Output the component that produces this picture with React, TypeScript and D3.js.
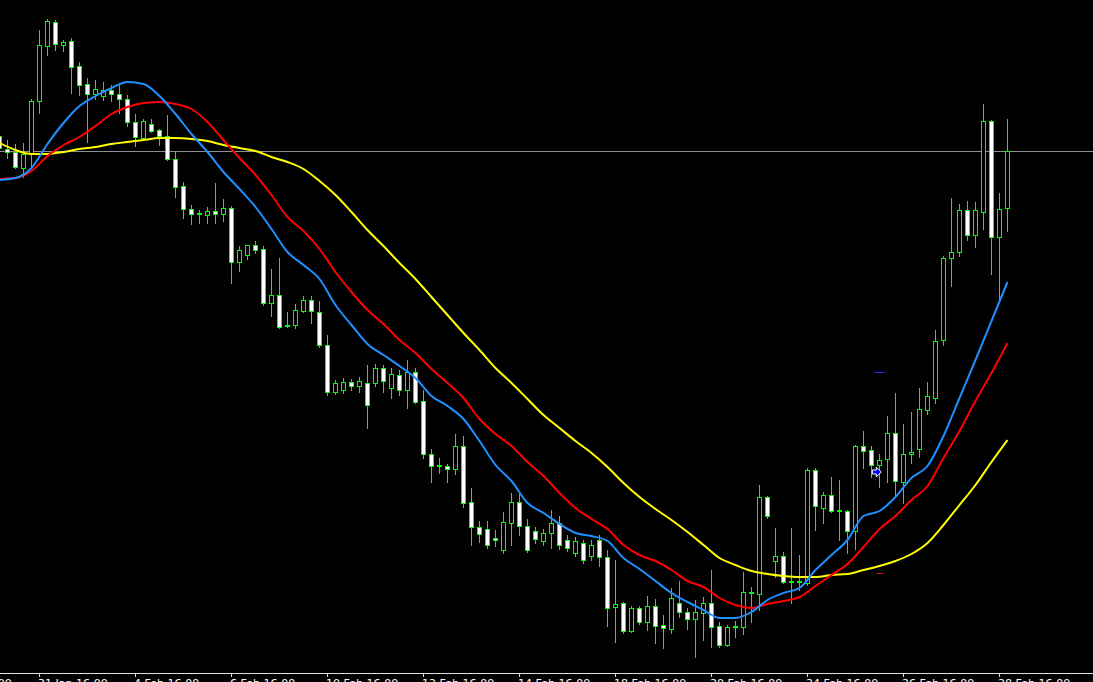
import React from 'react';
import * as d3 from 'd3';

// H4 bars, first visible bar index = -1 (partially cut at the left edge)
const FIRST_BAR = -1;

const openP = [
  564, 551, 548, 532, 546, 599, 654, 678, 655, 659, 634, 616, 606, 604, 610, 606, 601, 578, 562, 576,
  570, 564, 541, 514, 491, 487, 485, 489, 486, 492, 438, 445, 455, 451, 397, 405, 374, 375, 389, 400,
  388, 355, 308, 310, 318, 314, 317, 317, 332, 312, 325, 310, 328, 299, 246, 234, 234, 231, 254, 198,
  173, 171, 162, 150, 177, 198, 174, 169, 159, 167, 177, 160, 147, 157, 144, 160, 143, 93, 97, 69,
  92, 78, 94, 75, 71, 97, 88, 81, 87, 97, 74, 55, 73, 73, 107, 106, 203, 139, 144, 118,
  118, 117, 230, 192, 205, 189, 189, 169, 254, 250, 235, 241, 267, 218, 246, 251, 290, 302, 360, 442,
  448, 490, 465, 488, 579, 463, 492,
];
const highP = [
  566, 560, 556, 557, 601, 670, 681, 680, 660, 662, 638, 622, 620, 618, 615, 617, 605, 586, 581, 581,
  571, 585, 548, 518, 495, 490, 493, 517, 501, 494, 454, 455, 459, 454, 431, 442, 388, 396, 404, 404,
  399, 365, 320, 322, 321, 323, 335, 336, 335, 332, 330, 340, 332, 310, 251, 242, 236, 266, 264, 212,
  179, 179, 170, 188, 207, 206, 181, 173, 171, 190, 184, 165, 163, 160, 160, 165, 150, 140, 98, 94,
  94, 104, 101, 85, 112, 119, 92, 100, 103, 130, 78, 75, 79, 128, 113, 215, 204, 172, 148, 172,
  145, 232, 232, 208, 223, 220, 190, 255, 269, 254, 246, 284, 307, 276, 288, 312, 318, 370, 444, 502,
  496, 499, 498, 596, 580, 507, 581,
];
const lowP = [
  550, 542, 532, 523, 534, 587, 645, 650, 649, 607, 605, 558, 601, 600, 599, 587, 574, 554, 560, 568,
  555, 540, 503, 482, 476, 477, 477, 477, 479, 417, 429, 441, 447, 395, 384, 372, 373, 372, 388, 377,
  353, 305, 306, 307, 310, 308, 272, 314, 308, 302, 305, 292, 297, 242, 218, 227, 218, 226, 193, 155,
  158, 152, 154, 147, 155, 165, 148, 157, 155, 152, 151, 149, 144, 137, 140, 134, 74, 58, 67, 68,
  76, 70, 57, 52, 67, 83, 71, 43, 60, 53, 53, 54, 63, 66, 78, 90, 182, 123, 117, 97,
  110, 115, 170, 177, 188, 160, 147, 151, 232, 223, 213, 218, 205, 197, 237, 243, 286, 297, 355, 414,
  444, 460, 453, 471, 426, 400, 469,
];
const closeP = [
  552, 548, 533, 546, 599, 655, 679, 656, 658, 633, 615, 606, 611, 610, 606, 601, 578, 563, 579, 569,
  564, 541, 513, 491, 486, 486, 489, 486, 492, 438, 450, 455, 450, 397, 405, 373, 375, 390, 400, 389,
  355, 308, 317, 318, 314, 319, 295, 332, 319, 326, 310, 328, 298, 246, 234, 235, 231, 254, 197, 173,
  166, 155, 160, 178, 198, 174, 150, 161, 167, 177, 155, 152, 159, 140, 155, 143, 92, 96, 69, 92,
  78, 94, 74, 72, 102, 88, 81, 88, 97, 73, 55, 73, 74, 108, 108, 203, 184, 144, 118, 119,
  119, 230, 194, 205, 189, 190, 169, 254, 249, 235, 240, 267, 219, 246, 248, 291, 304, 359, 442, 448,
  490, 465, 490, 579, 463, 491, 549,
];

// moving averages, one value every 2 bars starting at bar -1
const MA_STEP = 2;
const maBlue = [
  520, 522, 532, 556, 577, 594, 604, 612, 618, 616, 604, 586, 566, 548, 528, 511, 493, 471, 448, 435,
  421, 395, 375, 356, 345, 334, 322, 304, 294, 281, 259, 235, 219, 197, 187, 176, 167, 164, 159, 142,
  131, 119, 107, 98, 90, 82, 82, 88, 100, 107, 112, 130, 145, 160, 184, 189, 203, 222, 234, 264,
  302, 340, 379, 418,
];
const maRed = [
  521, 522, 529, 544, 555, 563, 574, 586, 593, 597, 598, 596, 591, 578, 560, 542, 525, 505, 483, 469,
  451, 428, 408, 390, 376, 360, 347, 331, 317, 302, 281, 266, 254, 238, 224, 207, 192, 181, 171, 155,
  145, 139, 130, 119, 113, 102, 95, 92, 96, 99, 103, 114, 125, 136, 153, 171, 184, 200, 214, 242,
  269, 299, 327, 357,
];
const maYellow = [
  557, 550, 546, 546, 548, 551, 553, 556, 558, 560, 562, 562, 561, 559, 555, 552, 549, 543, 538, 531,
  519, 505, 488, 470, 454, 437, 421, 403, 385, 367, 350, 332, 317, 301, 285, 272, 259, 247, 233, 217,
  203, 191, 180, 168, 155, 142, 135, 129, 126, 124, 123, 123, 125, 126, 130, 134, 139, 146, 157, 175,
  195, 215, 238, 260,
];

const tickBars = [-8, 4, 16, 28, 40, 52, 64, 76, 88, 100, 112, 124];
const tickLabels = [
  '29 Jan 16:00', '31 Jan 16:00', '4 Feb 16:00', '6 Feb 16:00', '10 Feb 16:00', '12 Feb 16:00',
  '14 Feb 16:00', '18 Feb 16:00', '20 Feb 16:00', '24 Feb 16:00', '26 Feb 16:00', '28 Feb 16:00',
];

// chart objects
const arrowBar = 108.6;
const arrowPrice = 228;
const levelBar = 109;
const levelBlue = 328;
const levelRed = 127;

export default function App() {
  const W = 1093;
  const H = 682;
  const axisY = 673;
  const x = d3.scaleLinear().domain([-1, 125]).range([-0.5, 1007.5]);
  const y = d3.scaleLinear().domain([0, 700]).range([700, 0]);

  const green = '#00ff00';

  const candles = openP.map((o, i) => {
    const bar = FIRST_BAR + i;
    const c = closeP[i];
    const h = highP[i];
    const l = lowP[i];
    const cx = x(bar);
    const top = Math.round(y(Math.max(o, c)));
    const bot = Math.round(y(Math.min(o, c)));
    const bull = c >= o;
    return (
      <g key={i}>
        <line x1={cx} x2={cx} y1={Math.round(y(h))} y2={Math.round(y(l)) + 1} stroke={green} strokeWidth={1} />
        {bot - top >= 1 ? (
          <rect x={cx - 2} y={top + 0.5} width={4} height={bot - top} fill={bull ? '#000000' : '#ffffff'} stroke={green} strokeWidth={1} />
        ) : (
          <line x1={cx - 2.5} x2={cx + 2.5} y1={top + 0.5} y2={top + 0.5} stroke={green} strokeWidth={1} />
        )}
      </g>
    );
  });

  const maLine = d3
    .line<number>()
    .x((_, i) => x(FIRST_BAR + i * MA_STEP))
    .y((v) => y(v))
    .curve(d3.curveMonotoneX);

  const lastClose = closeP[closeP.length - 1];
  const priceY = Math.round(y(lastClose)) + 0.5;

  const ax = x(arrowBar);
  const ay = y(arrowPrice);

  return (
    <svg width={W} height={H} style={{ position: 'absolute', left: 0, top: 0, background: '#000' }}>
      <rect x={0} y={0} width={W} height={H} fill="#000" />
      <line x1={0} x2={W} y1={priceY} y2={priceY} stroke="#909090" strokeWidth={1} />
      {candles}
      <path d={maLine(maYellow) || ''} fill="none" stroke="#ffff00" strokeWidth={2} />
      <path d={maLine(maRed) || ''} fill="none" stroke="#ff0000" strokeWidth={2} />
      <path d={maLine(maBlue) || ''} fill="none" stroke="#1e90ff" strokeWidth={2} />
      <line x1={x(levelBar) - 5} x2={x(levelBar) + 5} y1={y(levelBlue) + 0.5} y2={y(levelBlue) + 0.5} stroke="#1a2cff" strokeWidth={1} />
      <line x1={x(levelBar) - 3} x2={x(levelBar) + 4} y1={y(levelRed) + 0.5} y2={y(levelRed) + 0.5} stroke="#d01010" strokeWidth={1} />
      <path
        d={`M${ax - 4},${ay - 2} L${ax},${ay - 2} L${ax},${ay - 5} L${ax + 5},${ay} L${ax},${ay + 5} L${ax},${ay + 2} L${ax - 4},${ay + 2} Z`}
        fill="#0000ff"
        stroke="#ffffff"
        strokeWidth={1}
      />
      <line x1={0} x2={W} y1={axisY + 0.5} y2={axisY + 0.5} stroke="#e0e0e0" strokeWidth={1} />
      {tickBars.map((b, i) => (
        <g key={b}>
          <line x1={x(b)} x2={x(b)} y1={axisY} y2={axisY + 4} stroke="#e0e0e0" strokeWidth={1} />
          <text x={x(b) - 1.5} y={687} fill="#ffffff" fontFamily="'DejaVu Sans', sans-serif" fontSize={11}>
            {tickLabels[i]}
          </text>
        </g>
      ))}
    </svg>
  );
}
